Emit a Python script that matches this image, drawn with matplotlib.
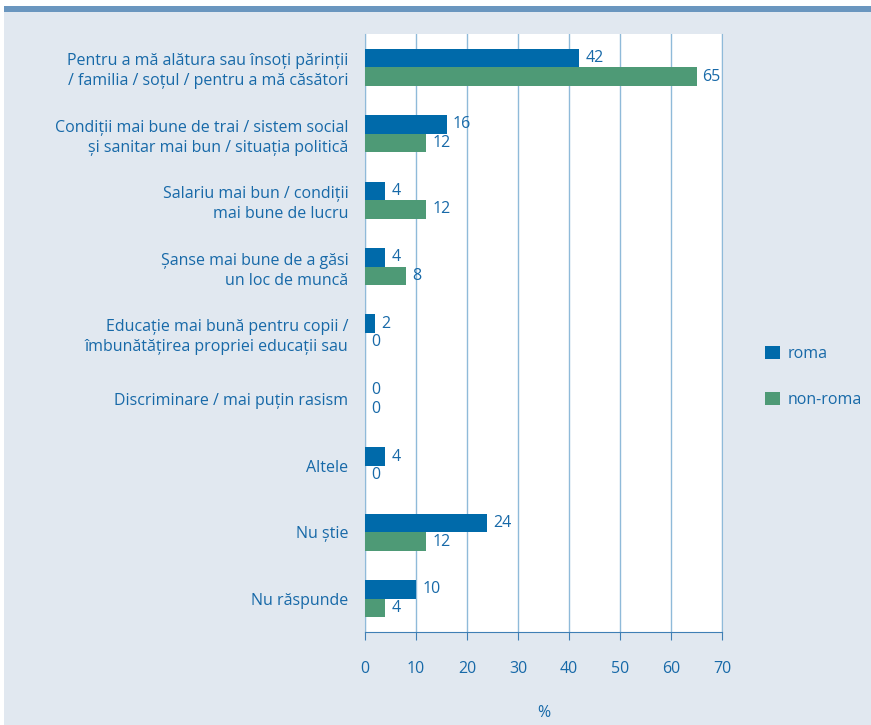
import numpy as np
import matplotlib.pyplot as plt
from matplotlib.patches import Rectangle

categories = [
    "Pentru a mă alătura sau însoți părinții\n/ familia / soțul / pentru a mă căsători",
    "Condiții mai bune de trai / sistem social\nși sanitar mai bun / situația politică",
    "Salariu mai bun / condiții\nmai bune de lucru",
    "Șanse mai bune de a găsi\nun loc de muncă",
    "Educație mai bună pentru copii /\nîmbunătățirea propriei educații sau",
    "Discriminare / mai puțin rasism",
    "Altele",
    "Nu știe",
    "Nu răspunde",
]
roma = [42, 16, 4, 4, 2, 0, 4, 24, 10]
non_roma = [65, 12, 12, 8, 0, 0, 0, 12, 4]
series_names = ["roma", "non-roma"]
xticks = [0, 10, 20, 30, 40, 50, 60, 70]

plt.rcParams['font.family'] = ['Open Sans', 'DejaVu Sans']
text_col = "#1769a8"
roma_col = "#006aaa"
non_col = "#4e9a76"
bg = "#e1e8f0"

fig = plt.figure(figsize=(8.71, 7.25), dpi=100)
fig.patch.set_facecolor("white")
fig.add_artist(Rectangle((4 / 871, 0), 1, 1 - 6 / 725, transform=fig.transFigure,
                         facecolor=bg, edgecolor="none", zorder=-10))
fig.add_artist(Rectangle((4 / 871, 1 - 12 / 725), 1, 6 / 725, transform=fig.transFigure,
                         facecolor="#6a96bf", edgecolor="none", zorder=-9))

ax = fig.add_axes([365 / 871, 1 - 632 / 725, 357 / 871, 598 / 725])
ax.set_facecolor("white")

y = np.arange(len(categories))
h = 0.28
ax.barh(y - h / 2, roma, height=h, color=roma_col, label=series_names[0], zorder=3)
ax.barh(y + h / 2, non_roma, height=h, color=non_col, label=series_names[1], zorder=3)

for yi, v in zip(y, roma):
    ax.text(v + 1.2, yi - h / 2, str(v), va="center", ha="left", fontsize=11.5, color=text_col)
for yi, v in zip(y, non_roma):
    ax.text(v + 1.2, yi + h / 2, str(v), va="center", ha="left", fontsize=11.5, color=text_col)

ax.set_xlim(0, 70)
ax.set_ylim(len(categories) - 0.5, -0.5)
ax.set_xticks(xticks)
ax.xaxis.grid(True, color="#8fbad9", linewidth=1, zorder=1)
ax.set_yticks(y)
ax.set_yticklabels(categories, fontsize=11.5, color=text_col, linespacing=1.35)
ax.tick_params(axis="y", length=0, pad=12)
ax.tick_params(axis="x", length=6, color="#3f7fb5", labelcolor=text_col, labelsize=11.5, pad=15)
for lab in ax.get_yticklabels():
    lab.set_horizontalalignment("right")

ax.spines["top"].set_visible(False)
ax.spines["left"].set_color("#8fbad9")
ax.spines["right"].set_color("#8fbad9")
ax.spines["bottom"].set_color("#3f7fb5")

ax.set_xlabel("%", fontsize=11.5, color=text_col, labelpad=20)

leg = fig.legend(loc="center left", bbox_to_anchor=(751 / 871, 1 - 377 / 725), frameon=False,
                 fontsize=11.5, handlelength=0.9, handleheight=0.9, labelspacing=1.9,
                 handletextpad=0.5)
for t in leg.get_texts():
    t.set_color(text_col)

fig.savefig("out.png", dpi=100, facecolor=fig.get_facecolor())
